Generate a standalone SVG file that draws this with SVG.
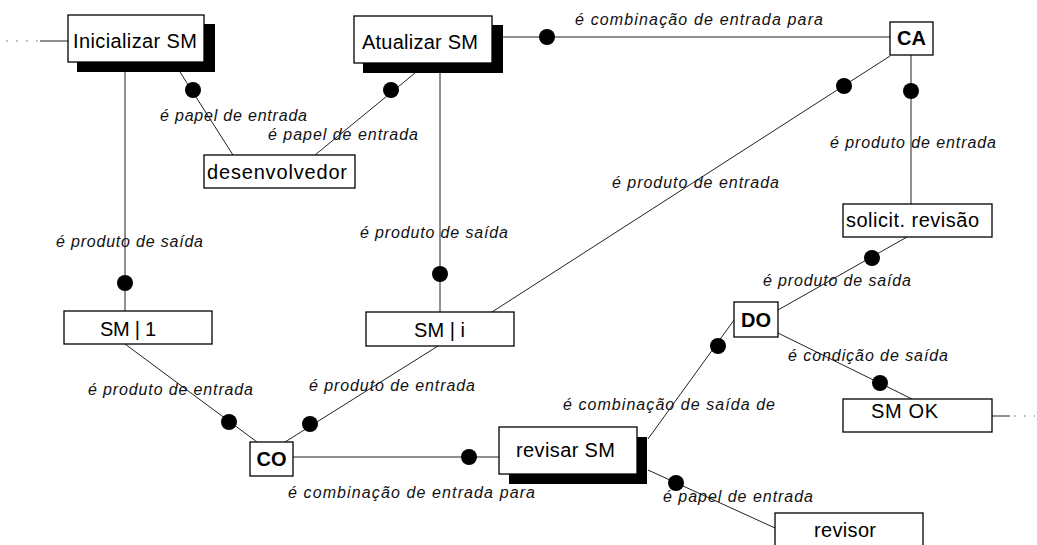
<svg xmlns="http://www.w3.org/2000/svg" width="1037" height="545" viewBox="0 0 1037 545">
<style>
.ln{stroke:#222;stroke-width:1;fill:none}
.dl{stroke:#999;stroke-width:1.6;stroke-dasharray:1.6 8.4;fill:none}
.dot{fill:#000}
.bx{fill:#fff;stroke:#000;stroke-width:1.3}
.sh{fill:#000}
.t{font-family:"Liberation Sans",Arial,sans-serif;font-size:20px;fill:#000}
.tb{font-family:"Liberation Sans",Arial,sans-serif;font-size:20px;font-weight:bold;fill:#000;text-anchor:middle}
.lb{font-family:"Liberation Sans",Arial,sans-serif;font-size:16px;font-style:italic;fill:#111}
</style>
<rect width="1037" height="545" fill="#fff"/>
<g id="connectors">
<line class="dl" x1="6" y1="41" x2="40" y2="41"/>
<line class="ln" x1="40" y1="41" x2="68" y2="41"/>
<line class="ln" x1="992" y1="416" x2="1010" y2="416"/>
<line class="dl" x1="1014" y1="416" x2="1035" y2="416"/>
<line class="ln" x1="125" y1="72" x2="125" y2="311"/>
<circle class="dot" cx="125" cy="283" r="8"/>
<line class="ln" x1="180" y1="72" x2="233" y2="155"/>
<circle class="dot" cx="193" cy="90" r="8"/>
<line class="ln" x1="415" y1="73" x2="315" y2="155"/>
<circle class="dot" cx="391" cy="90" r="8"/>
<line class="ln" x1="440" y1="73" x2="440" y2="312"/>
<circle class="dot" cx="440" cy="274" r="8"/>
<line class="ln" x1="503" y1="37" x2="890" y2="37"/>
<circle class="dot" cx="547" cy="37" r="8"/>
<line class="ln" x1="890" y1="56" x2="492" y2="312"/>
<circle class="dot" cx="844" cy="86" r="8"/>
<line class="ln" x1="911" y1="55" x2="911" y2="204"/>
<circle class="dot" cx="911" cy="91" r="8"/>
<line class="ln" x1="907" y1="237" x2="778" y2="310"/>
<circle class="dot" cx="872" cy="258" r="8"/>
<line class="ln" x1="778" y1="333" x2="912" y2="399"/>
<circle class="dot" cx="880" cy="383" r="8"/>
<line class="ln" x1="648" y1="439" x2="734" y2="320"/>
<circle class="dot" cx="718" cy="346" r="8"/>
<line class="ln" x1="648" y1="470" x2="775" y2="528"/>
<circle class="dot" cx="676" cy="483" r="8"/>
<line class="ln" x1="293" y1="457" x2="499" y2="457"/>
<circle class="dot" cx="469" cy="457" r="8"/>
<line class="ln" x1="125" y1="344" x2="257" y2="442"/>
<circle class="dot" cx="229" cy="422" r="8"/>
<line class="ln" x1="438" y1="346" x2="285" y2="442"/>
<circle class="dot" cx="310" cy="424" r="8"/>
<text class="lb" x="160" y="121" textLength="147" lengthAdjust="spacing">é papel de entrada</text>
<text class="lb" x="268" y="140" textLength="150" lengthAdjust="spacing">é papel de entrada</text>
<text class="lb" x="575" y="25" textLength="248" lengthAdjust="spacing">é combinação de entrada para</text>
<text class="lb" x="612" y="188" textLength="167" lengthAdjust="spacing">é produto de entrada</text>
<text class="lb" x="830" y="148" textLength="166" lengthAdjust="spacing">é produto de entrada</text>
<text class="lb" x="56" y="247" textLength="147" lengthAdjust="spacing">é produto de saída</text>
<text class="lb" x="360" y="238" textLength="148" lengthAdjust="spacing">é produto de saída</text>
<text class="lb" x="763" y="286" textLength="148" lengthAdjust="spacing">é produto de saída</text>
<text class="lb" x="788" y="361" textLength="160" lengthAdjust="spacing">é condição de saída</text>
<text class="lb" x="563" y="410" textLength="212" lengthAdjust="spacing">é combinação de saída de</text>
<text class="lb" x="88" y="395" textLength="165" lengthAdjust="spacing">é produto de entrada</text>
<text class="lb" x="309" y="391" textLength="166" lengthAdjust="spacing">é produto de entrada</text>
<text class="lb" x="288" y="498" textLength="247" lengthAdjust="spacing">é combinação de entrada para</text>
<text class="lb" x="663" y="502" textLength="150" lengthAdjust="spacing">é papel de entrada</text>
</g>
<g id="inicializar">
<rect class="sh" x="77" y="24" width="138" height="48"/>
<rect class="bx" x="68" y="15" width="136" height="47"/>
<text class="t" x="73" y="48" textLength="124" lengthAdjust="spacing">Inicializar SM</text>
</g>
<g id="atualizar">
<rect class="sh" x="363" y="25" width="140" height="48"/>
<rect class="bx" x="354" y="16" width="138" height="47"/>
<text class="t" x="362" y="49" textLength="116" lengthAdjust="spacing">Atualizar SM</text>
</g>
<g id="desenvolvedor">
<rect class="bx" x="204" y="155" width="151" height="33"/>
<text class="t" x="207" y="179" textLength="140" lengthAdjust="spacing">desenvolvedor</text>
</g>
<g id="ca">
<rect class="bx" x="890" y="22" width="43" height="33"/>
<text class="tb" x="911.5" y="45">CA</text>
</g>
<g id="solicit">
<rect class="bx" x="843" y="204" width="149" height="33"/>
<text class="t" x="846" y="227" textLength="133" lengthAdjust="spacing">solicit. revisão</text>
</g>
<g id="sm1">
<rect class="bx" x="64" y="311" width="148" height="33"/>
<text class="t" x="100" y="336" textLength="56" lengthAdjust="spacing">SM | 1</text>
</g>
<g id="smi">
<rect class="bx" x="366" y="312" width="148" height="34"/>
<text class="t" x="414" y="337" textLength="51" lengthAdjust="spacing">SM | i</text>
</g>
<g id="do">
<rect class="bx" x="734" y="302" width="44" height="35"/>
<text class="tb" x="756" y="327">DO</text>
</g>
<g id="co">
<rect class="bx" x="250" y="442" width="43" height="34"/>
<text class="tb" x="271.5" y="466">CO</text>
</g>
<g id="revisar">
<rect class="sh" x="509" y="437" width="138" height="47"/>
<rect class="bx" x="499" y="427" width="138" height="47"/>
<text class="t" x="516" y="457" textLength="99" lengthAdjust="spacing">revisar SM</text>
</g>
<g id="smok">
<rect class="bx" x="843" y="399" width="149" height="33"/>
<text class="t" x="871" y="418" textLength="67" lengthAdjust="spacing">SM OK</text>
</g>
<g id="revisor">
<rect class="bx" x="775" y="513" width="148" height="40"/>
<text class="t" x="814" y="537" textLength="62" lengthAdjust="spacing">revisor</text>
</g>
</svg>
